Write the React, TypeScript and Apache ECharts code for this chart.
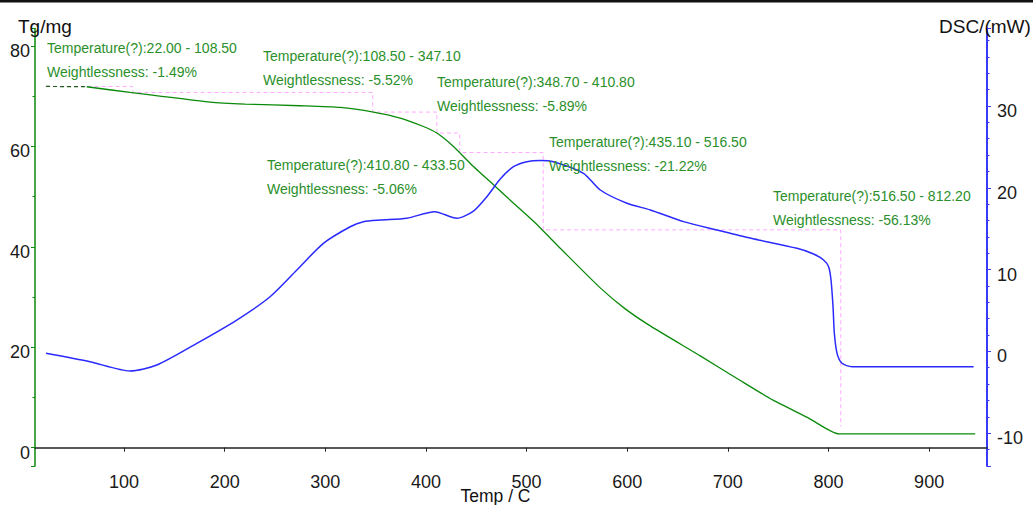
import React, { useEffect, useRef } from 'react';
import * as echarts from 'echarts';

// TG curve (left axis, mg) vs temperature (°C)
const tgTemp = [22.5, 62.9, 106.0, 185.5, 220.3, 274.9, 314.7, 347.8, 374.4, 397.5, 410.8, 427.3, 447.2, 467.1, 487.0, 506.9, 533.4, 573.2, 598.0, 622.9, 672.6, 711.5, 745.4, 779.4, 810.7, 945.8];
const tgMass = [71.96, 71.90, 70.76, 68.85, 68.45, 68.11, 67.77, 66.85, 65.66, 63.98, 62.67, 60.00, 56.01, 52.36, 48.71, 45.09, 39.74, 31.83, 27.65, 24.26, 18.28, 13.49, 9.41, 6.00, 2.73, 2.73];

// DSC curve (right axis, mW) vs temperature (°C)
const dscTemp = [22.5, 66.2, 106.0, 132.5, 172.3, 212.0, 245.1, 271.7, 298.1, 324.7, 337.9, 354.5, 381.0, 408.5, 430.7, 447.2, 460.5, 473.8, 487.0, 500.3, 513.5, 526.7, 556.5, 573.2, 599.7, 622.9, 656.0, 689.2, 722.9, 768.7, 785.2, 795.1, 800.1, 802.5, 804.5, 805.8, 808.5, 813.4, 823.4, 944.2];
const dscPower = [-0.24, -1.27, -2.40, -1.67, 0.98, 3.83, 6.68, 9.95, 13.21, 15.24, 15.86, 16.06, 16.27, 17.08, 16.27, 17.16, 18.91, 21.08, 22.58, 23.19, 23.34, 23.19, 21.77, 19.73, 18.11, 17.29, 15.86, 14.84, 13.83, 12.60, 11.91, 11.17, 10.35, 8.73, 5.46, 2.21, -0.24, -1.46, -1.88, -1.88];

// Weight-loss step boundaries (°C) and TG levels (mg)
const stepTemps = [22.0, 108.5, 347.1, 410.8, 433.5, 516.5, 812.2];
const stepMass = [71.96, 70.76, 66.85, 62.67, 58.80, 43.39, 4.19];

// Annotation texts
const annRanges = ['22.00 - 108.50', '108.50 - 347.10', '348.70 - 410.80', '410.80 - 433.50', '435.10 - 516.50', '516.50 - 812.20'];
const annLoss = ['-1.49%', '-5.52%', '-5.89%', '-5.06%', '-21.22%', '-56.13%'];

// Axis titles
const xTitle = 'Temp / C';
const yLeftTitle = 'Tg/mg';
const yRightTitle = 'DSC/(mW)';

// layout (pixels) for annotation blocks
const annLayout = [[47, 48], [263, 56], [437, 82], [267, 165], [549, 142], [773, 196]];

const FONT = '"Liberation Sans", Arial, sans-serif';

export default function App() {
  const ref = useRef<HTMLDivElement>(null);
  useEffect(() => {
    const chart = echarts.init(ref.current!, null, { renderer: 'svg' });

    const tgData = tgTemp.map((t, i) => [t, tgMass[i]]);
    const dscData = dscTemp.map((t, i) => [t, dscPower[i]]);
    const stepData: number[][] = [[stepTemps[0], stepMass[0]]];
    for (let i = 0; i < stepTemps.length - 1; i++) {
      stepData.push([stepTemps[i + 1], stepMass[i]]);
      stepData.push([stepTemps[i + 1], stepMass[i + 1]]);
    }

    const graphics: any[] = [
      { type: 'rect', shape: { x: 0, y: 0, width: 1033, height: 2.5 }, style: { fill: '#111' }, z: 100 },
      { type: 'text', x: 18, y: 26, style: { text: yLeftTitle, fill: '#111', fontSize: 19, fontFamily: FONT, verticalAlign: 'middle', align: 'left' }, z: 100 },
      { type: 'text', x: 939, y: 26, style: { text: yRightTitle, fill: '#111', fontSize: 19, fontFamily: FONT, verticalAlign: 'middle', align: 'left' }, z: 100 },
      { type: 'text', x: 495.5, y: 496, style: { text: xTitle, fill: '#111', fontSize: 17.5, fontFamily: FONT, verticalAlign: 'middle', align: 'center' }, z: 100 },
    ];
    annRanges.forEach((r, i) => {
      const [x, y] = annLayout[i];
      graphics.push({ type: 'text', x, y, style: { text: 'Temperature(?):' + r, fill: '#2b8f2b', fontSize: 14, fontFamily: FONT, verticalAlign: 'middle', align: 'left' }, z: 100 });
      graphics.push({ type: 'text', x, y: y + 23.5, style: { text: 'Weightlessness: ' + annLoss[i], fill: '#2b8f2b', fontSize: 14, fontFamily: FONT, verticalAlign: 'middle', align: 'left' }, z: 100 });
    });

    const yLabel = { fontSize: 18, color: '#1a1a1a', fontFamily: FONT, verticalAlign: 'top', lineHeight: 10, showMinLabel: false, showMaxLabel: false };

    chart.setOption({
      animation: false,
      backgroundColor: '#fff',
      grid: { left: 35, right: 46, top: 28.5, bottom: 39 },
      xAxis: {
        type: 'value',
        min: 11.5,
        max: 957.5,
        minInterval: 100,
        maxInterval: 100,
        axisLine: { lineStyle: { color: '#222', width: 1.5 } },
        axisTick: { length: 4, lineStyle: { color: '#222' } },
        axisLabel: { fontSize: 18, color: '#1a1a1a', margin: 7, fontFamily: FONT, showMinLabel: false, showMaxLabel: false },
        splitLine: { show: false },
      },
      yAxis: [
        {
          type: 'value',
          position: 'left',
          min: -3.65,
          max: 83.5,
          minInterval: 20,
          maxInterval: 20,
          axisLine: { show: true, onZero: false, lineStyle: { color: '#0a8a0a', width: 1.5 } },
          axisTick: { show: true, length: 4, lineStyle: { color: '#0a8a0a' } },
          minorTick: { show: true, splitNumber: 2, length: 2.5, lineStyle: { color: '#0a8a0a' } },
          axisLabel: { ...yLabel, margin: 5 },
          splitLine: { show: false },
        },
        {
          type: 'value',
          position: 'right',
          min: -14.02,
          max: 39.48,
          minInterval: 10,
          maxInterval: 10,
          axisLine: { show: true, onZero: false, lineStyle: { color: '#3a3aff', width: 2 } },
          axisTick: { show: true, length: 4, lineStyle: { color: '#3a3aff' } },
          minorTick: { show: true, splitNumber: 5, length: 2.5, lineStyle: { color: '#3a3aff' } },
          axisLabel: { ...yLabel, margin: 10 },
          splitLine: { show: false },
        },
      ],
      series: [
        {
          name: 'Steps',
          type: 'line',
          yAxisIndex: 0,
          data: stepData,
          symbol: 'none',
          lineStyle: { color: '#ffaaff', width: 1, type: [4, 3] },
          z: 1,
        },
        {
          name: 'TG start',
          type: 'line',
          yAxisIndex: 0,
          data: tgData.slice(0, 2),
          symbol: 'none',
          lineStyle: { color: '#1b5e1b', width: 1.2, type: [4, 3] },
          z: 2,
        },
        {
          name: 'TG',
          type: 'line',
          yAxisIndex: 0,
          data: tgData.slice(1),
          symbol: 'none',
          smooth: 0.2,
          lineStyle: { color: '#0a8a0a', width: 1.3 },
          z: 3,
        },
        {
          name: 'DSC',
          type: 'line',
          yAxisIndex: 1,
          data: dscData,
          symbol: 'none',
          smooth: 0.25,
          lineStyle: { color: '#2a2aff', width: 1.5 },
          z: 4,
        },
      ],
      graphic: graphics,
    });
    return () => chart.dispose();
  }, []);
  return <div ref={ref} style={{ position: 'fixed', left: 0, top: 0, width: 1033, height: 505, background: '#fff' }} />;
}
